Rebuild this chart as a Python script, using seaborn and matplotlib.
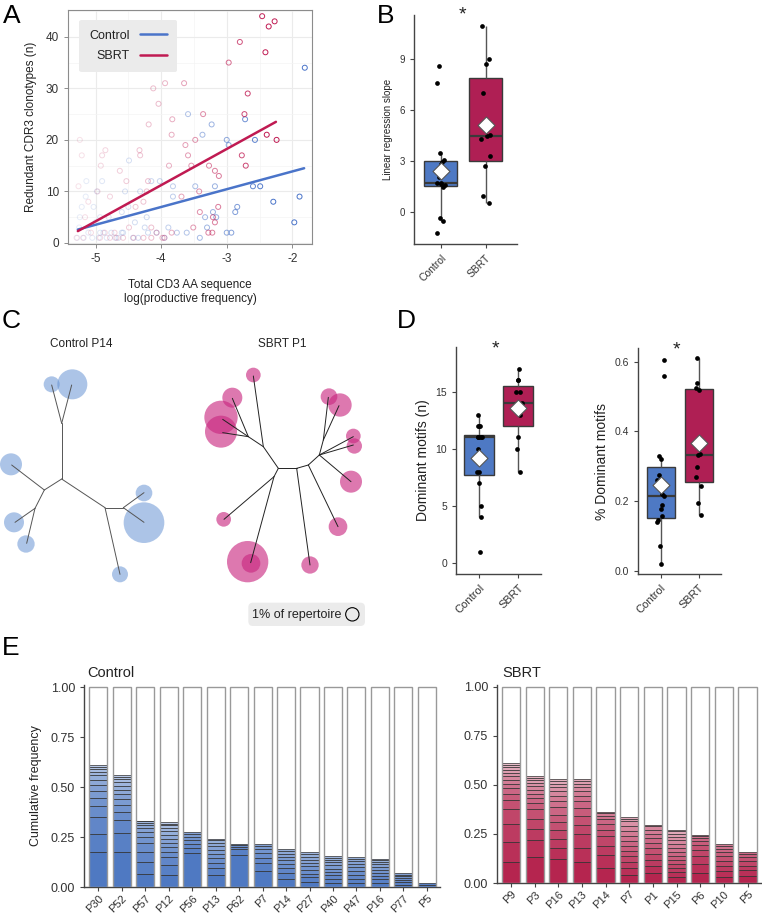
import numpy as np
import pandas as pd
import matplotlib
matplotlib.use("Agg")
import matplotlib.pyplot as plt
from matplotlib.colors import to_rgb, to_rgba
from matplotlib.patches import Circle, FancyBboxPatch
import seaborn as sns

# colours
BLUE = "#4E79C4"
RED = "#AF1F54"
LINE_BLUE = "#4A74C9"
LINE_RED = "#C01A52"
BAR_BLUE = "#4F79C2"
BAR_RED = "#B5254F"

# ---- panel A: redundant clonotypes vs log frequency
a_ctrl_x = [-1.81, -2.72, -2.57, -3.0, -2.97, -3.23, -3.37, -3.59, -2.60, -2.49,
            -2.29, -1.89, -1.97, -2.84, -2.87, -3.0, -2.93, -3.18, -3.16, -3.21,
            -3.33, -3.41, -3.48, -3.76, -3.82, -3.89, -4.02, -4.15, -4.25, -4.22,
            -4.32, -4.49, -4.55, -4.50, -4.58, -4.65, -4.76, -4.93, -4.93, -4.98,
            -5.03, -5.11, -5.14, -5.21, -5.24, -5.28, -4.83, -4.43, -4.07, -3.61,
            -3.30, -3.82, -5.18, -5.05, -4.95, -4.88, -4.70, -4.60, -4.35, -4.20,
            -3.95, -5.25, -5.0, -4.8, -4.6, -4.4, -5.15, -4.9]
a_ctrl_y = [34, 24, 20, 20, 19, 23, 21, 25, 11, 11,
            8, 9, 4, 7, 6, 2, 2, 11, 5, 6,
            5, 1, 11, 2, 9, 3, 12, 12, 3, 5,
            10, 16, 10, 7, 2, 1, 2, 2, 5, 10,
            7, 2, 12, 7, 5, 1, 1, 1, 2, 2,
            3, 11, 1, 1, 1, 2, 1, 2, 1, 2,
            1, 3, 4, 5, 6, 4, 9, 12]
a_sbrt_x = [-2.46, -2.27, -2.36, -2.80, -2.41, -2.97, -2.68, -2.73, -2.39, -2.24,
            -2.77, -2.71, -3.12, -3.18, -3.27, -3.13, -3.21, -3.18, -3.22, -3.28,
            -3.41, -3.51, -3.42, -3.36, -3.48, -3.54, -3.59, -3.63, -3.65, -3.82,
            -3.83, -3.84, -3.88, -3.94, -4.04, -4.12, -3.69, -3.95, -3.98, -4.22,
            -4.20, -4.33, -4.32, -4.19, -4.15, -4.49, -4.58, -4.68, -4.78, -4.85,
            -4.90, -4.92, -4.97, -5.11, -5.16, -5.24, -5.21, -5.26, -5.29, -4.78,
            -4.63, -4.53, -4.39, -4.27, -4.07, -3.84, -4.42, -4.27, -4.15, -5.07,
            -4.93, -4.86, -5.19, -4.71]
a_sbrt_y = [44, 43, 42, 39, 37, 35, 29, 25, 21, 20,
            17, 15, 13, 14, 15, 7, 5, 4, 2, 2,
            6, 3, 10, 25, 20, 15, 17, 19, 31, 35,
            24, 21, 15, 31, 27, 30, 9, 1, 1, 10,
            12, 18, 17, 23, 3, 3, 1, 1, 1, 18,
            17, 15, 10, 8, 5, 20, 17, 11, 1, 9,
            14, 12, 7, 8, 2, 2, 1, 1, 1, 2,
            1, 2, 1, 2]
fit_x_ctrl = [-5.27, -1.82]
fit_y_ctrl = [2.6, 14.5]
fit_x_sbrt = [-5.27, -2.25]
fit_y_sbrt = [2.3, 23.5]

# ---- panel B: regression slopes
slope_ctrl = [-1.25, -0.55, -0.35, 1.5, 1.6, 1.65, 1.7, 1.72, 2.05, 2.85, 2.95, 3.05, 3.5, 7.6, 8.6]
slope_sbrt = [0.5, 0.95, 2.7, 3.3, 4.3, 4.5, 4.55, 7.0, 8.75, 9.0, 11.0]

# ---- panel D: dominant motifs
motifs_ctrl = [1, 4, 5, 7, 8, 8, 10, 11, 11, 11, 11, 11, 12, 12, 12, 13]
motifs_sbrt = [8, 10, 11, 13, 14, 14, 15, 15, 16, 16, 17]
pct_ctrl = [0.02, 0.07, 0.14, 0.145, 0.158, 0.178, 0.19, 0.215, 0.22, 0.26, 0.275, 0.32, 0.33, 0.56, 0.606]
pct_sbrt = [0.16, 0.195, 0.242, 0.268, 0.297, 0.333, 0.335, 0.52, 0.525, 0.54, 0.61]

# ---- panel C: clonotype trees (tree units)
ctrl_node_x = [185, 185, 155, 215, 133, 35, 105, 45, 80, 315, 370, 432, 432, 360]
ctrl_node_y = [507, 340, 225, 225, 540, 465, 595, 637, 700, 593, 593, 548, 637, 793]
ctrl_parent = [-1, 0, 1, 1, 0, 4, 4, 6, 6, 0, 9, 10, 10, 9]
ctrl_clone_x = [155, 217, 33, 42, 78, 432, 432, 360]
ctrl_clone_y = [223, 223, 463, 637, 702, 549, 638, 793]
ctrl_clone_r = [24, 45, 33, 30, 26, 25, 61, 24]

sbrt_node_x = [835, 890, 925, 958, 1060, 1060, 970, 985, 1017, 1053, 1014, 930, 822, 672, 752, 790, 745, 668, 668, 697, 760]
sbrt_node_y = [475, 475, 465, 435, 380, 405, 390, 262, 287, 515, 650, 765, 500, 628, 758, 410, 380, 328, 368, 265, 198]
sbrt_parent = [-1, 0, 1, 2, 3, 3, 3, 6, 6, 3, 2, 1, 0, 12, 12, 0, 15, 16, 16, 16, 15]
sbrt_clone_x = [760, 697, 663, 663, 1060, 1063, 987, 1020, 1053, 1014, 930, 671, 743, 753]
sbrt_clone_y = [195, 263, 322, 365, 378, 408, 260, 285, 515, 650, 765, 628, 755, 760]
sbrt_clone_r = [22, 30, 50, 48, 22, 23, 25, 35, 33, 28, 26, 22, 62, 28]
legend_clone_r = 20

# ---- panel E: cumulative frequency of dominant clonotypes
ctrl_patients = ["P30", "P52", "P57", "P12", "P56", "P13", "P62", "P7", "P14", "P27", "P40", "P47", "P16", "P77", "P5"]
ctrl_cumfreq = [
    [0.177, 0.267, 0.35, 0.405, 0.445, 0.478, 0.512, 0.537, 0.558, 0.577, 0.589, 0.598, 0.608],
    [0.177, 0.268, 0.333, 0.373, 0.41, 0.438, 0.463, 0.487, 0.505, 0.523, 0.538, 0.552, 0.562],
    [0.067, 0.125, 0.177, 0.222, 0.251, 0.274, 0.294, 0.309, 0.321, 0.328, 0.332],
    [0.06, 0.112, 0.15, 0.177, 0.2, 0.222, 0.242, 0.262, 0.281, 0.296, 0.308, 0.316, 0.323],
    [0.172, 0.197, 0.217, 0.234, 0.25, 0.263, 0.273],
    [0.058, 0.095, 0.12, 0.144, 0.167, 0.187, 0.207, 0.222, 0.233, 0.241],
    [0.162, 0.188, 0.2, 0.208, 0.216],
    [0.079, 0.12, 0.145, 0.169, 0.189, 0.206, 0.216],
    [0.04, 0.07, 0.095, 0.115, 0.134, 0.15, 0.167, 0.18, 0.19],
    [0.027, 0.05, 0.067, 0.087, 0.103, 0.12, 0.137, 0.15, 0.163, 0.174],
    [0.02, 0.04, 0.058, 0.075, 0.092, 0.108, 0.123, 0.137, 0.147, 0.157],
    [0.02, 0.04, 0.062, 0.082, 0.098, 0.115, 0.13, 0.14, 0.148],
    [0.02, 0.038, 0.055, 0.07, 0.085, 0.1, 0.113, 0.125, 0.135, 0.14],
    [0.012, 0.024, 0.034, 0.044, 0.053, 0.062, 0.07],
    [0.012, 0.021],
]
sbrt_patients = ["P9", "P3", "P16", "P13", "P14", "P7", "P1", "P15", "P6", "P10", "P5"]
sbrt_cumfreq = [
    [0.105, 0.207, 0.301, 0.379, 0.422, 0.454, 0.483, 0.505, 0.527, 0.544, 0.561, 0.578, 0.592, 0.604, 0.612],
    [0.133, 0.218, 0.274, 0.327, 0.378, 0.408, 0.434, 0.456, 0.476, 0.493, 0.51, 0.524, 0.536, 0.546],
    [0.124, 0.179, 0.226, 0.269, 0.31, 0.349, 0.386, 0.417, 0.442, 0.468, 0.488, 0.507, 0.52, 0.531],
    [0.105, 0.179, 0.25, 0.294, 0.34, 0.383, 0.417, 0.442, 0.468, 0.49, 0.507, 0.519, 0.529],
    [0.077, 0.141, 0.19, 0.238, 0.272, 0.303, 0.327, 0.343, 0.355, 0.364],
    [0.043, 0.077, 0.107, 0.136, 0.162, 0.187, 0.213, 0.238, 0.264, 0.289, 0.315, 0.326, 0.336],
    [0.051, 0.085, 0.119, 0.15, 0.179, 0.204, 0.23, 0.252, 0.272, 0.289, 0.298],
    [0.029, 0.054, 0.077, 0.097, 0.117, 0.136, 0.156, 0.177, 0.197, 0.218, 0.235, 0.252, 0.264, 0.269],
    [0.051, 0.099, 0.136, 0.167, 0.192, 0.213, 0.228, 0.238, 0.243],
    [0.031, 0.06, 0.088, 0.114, 0.136, 0.156, 0.175, 0.19, 0.197],
    [0.037, 0.065, 0.088, 0.111, 0.131, 0.148, 0.158],
]
repertoire_total = 1.0

sns.set_theme(style="white")
plt.rcParams["font.family"] = ["Liberation Sans", "DejaVu Sans"]
plt.rcParams["axes.unicode_minus"] = False
plt.rcParams["text.color"] = "#222222"
plt.rcParams["axes.labelcolor"] = "#222222"
plt.rcParams["xtick.color"] = "#333333"
plt.rcParams["ytick.color"] = "#333333"
np.random.seed(7)

W, H = 762, 916
fig = plt.figure(figsize=(W / 100, H / 100), dpi=100)
fig.patch.set_facecolor("white")


def px_axes(x0, y0, x1, y1):
    return fig.add_axes([x0 / W, 1 - y1 / H, (x1 - x0) / W, (y1 - y0) / H])


def letter(x, y, s):
    fig.text(x / W, 1 - y / H, s, fontsize=19, va="top", ha="left", color="black")


def style_spines(ax):
    sns.despine(ax=ax)
    for side in ["left", "bottom"]:
        ax.spines[side].set_color("#444444")
        ax.spines[side].set_linewidth(1.0)
    ax.tick_params(axis="both", which="major", length=3, width=0.8, color="#444444",
                   left=True, bottom=True)


# ================= A =================
ax = px_axes(68, 10, 312, 244)
ax.set_xticks([-5, -4, -3, -2])
ax.set_xticks([-5.5, -4.5, -3.5, -2.5], minor=True)
ax.set_yticks([0, 10, 20, 30, 40])
ax.set_yticks([5, 15, 25, 35, 45], minor=True)
ax.grid(which="major", color="#EBEBEB", lw=0.8)
ax.grid(which="minor", color="#F4F4F4", lw=0.5)
ax.set_axisbelow(True)


def faded(color, xs):
    alpha = np.interp(xs, [-5.3, -4.0, -3.0, -2.4], [0.12, 0.3, 0.62, 1.0])
    base = np.array(to_rgba(color))
    cols = np.tile(base, (len(xs), 1))
    cols[:, 3] = alpha
    return cols


ax.scatter(a_ctrl_x, a_ctrl_y, s=13, facecolors="none",
           edgecolors=faded(LINE_BLUE, np.array(a_ctrl_x)), linewidths=0.7)
ax.scatter(a_sbrt_x, a_sbrt_y, s=13, facecolors="none",
           edgecolors=faded(LINE_RED, np.array(a_sbrt_x)), linewidths=0.7)
sns.lineplot(x=fit_x_ctrl, y=fit_y_ctrl, color=LINE_BLUE, lw=1.8, label="Control", ax=ax)
sns.lineplot(x=fit_x_sbrt, y=fit_y_sbrt, color=LINE_RED, lw=1.8, label="SBRT", ax=ax)
ax.set_xlim(-5.42, -1.70)
ax.set_ylim(-0.2, 45.2)
for s in ax.spines.values():
    s.set_color("#8C8C8C")
    s.set_linewidth(0.8)
ax.tick_params(axis="both", which="major", length=3, width=0.7, color="#8C8C8C",
               labelsize=8.5, left=True, bottom=True)
ax.tick_params(which="minor", length=0)
ax.set_xlabel("Total CD3 AA sequence\nlog(productive frequency)", fontsize=8.5, labelpad=10)
ax.set_ylabel("Redundant CDR3 clonotypes (n)", fontsize=8.5, labelpad=6)
leg = ax.legend(loc="upper left", bbox_to_anchor=(0.03, 0.975), markerfirst=False,
                frameon=True, facecolor="#EBEBEB", edgecolor="none", fontsize=9,
                handlelength=2.2, borderpad=0.6, labelspacing=0.7, framealpha=1)
leg.get_frame().set_boxstyle("round", pad=0.2)
letter(3, 4, "A")


# ================= box panels =================
def box_panel(ax, ctrl, sbrt, width):
    df = pd.DataFrame({"group": ["Control"] * len(ctrl) + ["SBRT"] * len(sbrt),
                       "value": list(ctrl) + list(sbrt)})
    sns.boxplot(data=df, x="group", y="value", hue="group", palette=[BLUE, RED],
                saturation=1, width=width, showfliers=False, showcaps=False,
                linecolor="#3a3a3a", linewidth=1.0, legend=False, ax=ax,
                medianprops=dict(lw=1.6), whiskerprops=dict(color="#555555"))
    sns.stripplot(data=df, x="group", y="value", color="black", size=3.4,
                  jitter=0.1, ax=ax)
    means = df.groupby("group")["value"].mean()
    ax.scatter([0, 1], means.values, marker="D", s=75, facecolor="white",
               edgecolor="#555555", linewidths=0.8, zorder=6)
    ax.set_xlabel("")
    style_spines(ax)
    for lab in ax.get_xticklabels():
        lab.set_rotation(45)
        lab.set_ha("right")
        lab.set_rotation_mode("anchor")


# B
ax = px_axes(414, 15, 517, 244)
box_panel(ax, slope_ctrl, slope_sbrt, 0.74)
ax.set_xlim(-0.6, 1.7)
ax.set_ylim(-1.89, 11.62)
ax.set_yticks([0, 3, 6, 9])
ax.tick_params(axis="y", labelsize=7)
ax.tick_params(axis="x", labelsize=7.5)
ax.set_ylabel("Linear regression slope", fontsize=7, labelpad=5)
ax.text(0.475, 1.0, "*", transform=ax.transAxes, ha="center", va="center", fontsize=14)
letter(377, 4, "B")

# D left
ax = px_axes(456, 347, 541, 574)
box_panel(ax, motifs_ctrl, motifs_sbrt, 0.77)
ax.set_xlim(-0.6, 1.58)
ax.set_ylim(-0.94, 18.9)
ax.set_yticks([0, 5, 10, 15])
ax.tick_params(axis="y", labelsize=7.5)
ax.tick_params(axis="x", labelsize=8)
ax.set_ylabel("Dominant motifs (n)", fontsize=10, labelpad=4)
ax.text(0.47, 0.99, "*", transform=ax.transAxes, ha="center", va="center", fontsize=14)

# D right
ax = px_axes(638, 348, 721, 574)
box_panel(ax, pct_ctrl, pct_sbrt, 0.74)
ax.set_xlim(-0.6, 1.59)
ax.set_ylim(-0.009, 0.639)
ax.set_yticks([0, 0.2, 0.4, 0.6])
ax.set_yticklabels(["0.0", "0.2", "0.4", "0.6"])
ax.tick_params(axis="y", labelsize=7.5)
ax.tick_params(axis="x", labelsize=8)
ax.set_ylabel("% Dominant motifs", fontsize=10, labelpad=4)
ax.text(0.46, 0.99, "*", transform=ax.transAxes, ha="center", va="center", fontsize=14)
letter(397, 309, "D")

# ================= C =================
ax = px_axes(0, 310, 420, 670)
ax.set_xlim(0, 1260)
ax.set_ylim(1080, 0)
ax.set_aspect("equal")
ax.axis("off")


def draw_tree(nx, ny, parent, cx, cy, cr, color, alpha, line_color):
    for x, y, r in zip(cx, cy, cr):
        ax.add_patch(Circle((x, y), r, facecolor=color, alpha=alpha, edgecolor="none", zorder=1))
    for i, p in enumerate(parent):
        if p >= 0:
            ax.plot([nx[p], nx[i]], [ny[p], ny[i]], color=line_color, lw=0.7, zorder=2)


draw_tree(ctrl_node_x, ctrl_node_y, ctrl_parent, ctrl_clone_x, ctrl_clone_y, ctrl_clone_r,
          "#5B8BD0", 0.5, "#555555")
draw_tree(sbrt_node_x, sbrt_node_y, sbrt_parent, sbrt_clone_x, sbrt_clone_y, sbrt_clone_r,
          "#C8267F", 0.62, "#222222")
ax.text(245, 103, "Control P14", ha="center", va="center", fontsize=8.5)
ax.text(848, 103, "SBRT P1", ha="center", va="center", fontsize=8.5)
ax.add_patch(FancyBboxPatch((745, 878), 350, 70, boxstyle="round,pad=0,rounding_size=14",
                            facecolor="#EBEBEB", edgecolor="none"))
ax.text(757, 914, "1% of repertoire", ha="left", va="center", fontsize=9)
ax.add_patch(Circle((1057, 913), legend_clone_r, fill=False, edgecolor="black", lw=0.8))
letter(2, 309, "C")


# ================= E =================
def tint(color, k):
    c = np.array(to_rgb(color))
    return tuple(c + (1 - c) * min(0.05 * k, 0.7))


def cum_panel(ax, patients, cumfreq, base, xlim):
    n = len(patients)
    sns.barplot(x=patients, y=[repertoire_total] * n, color="white", saturation=1,
                width=0.77, errorbar=None, edgecolor="none", ax=ax)
    for i, cum in enumerate(cumfreq):
        bottoms = [0] + cum[:-1]
        heights = np.diff([0] + cum)
        cols = [tint(base, k) for k in range(len(cum))]
        ax.bar([i] * len(cum), heights, bottom=bottoms, width=0.77, color=cols,
               edgecolor="#2e2e2e", linewidth=0.5, zorder=3)
    ax.bar(range(n), [repertoire_total] * n, width=0.77, facecolor="none",
           edgecolor="#999999", linewidth=1.0, zorder=4)
    ax.set_xlim(*xlim)
    ax.set_ylim(0, 1.01)
    ax.set_yticks([0, 0.25, 0.5, 0.75, 1.0])
    ax.set_yticklabels(["0.00", "0.25", "0.50", "0.75", "1.00"])
    style_spines(ax)
    ax.tick_params(axis="y", labelsize=9)
    ax.tick_params(axis="x", labelsize=8, pad=1.5)
    for lab in ax.get_xticklabels():
        lab.set_rotation(45)
        lab.set_ha("right")
        lab.set_rotation_mode("anchor")
    ax.set_xlabel("")


ax = px_axes(84, 685, 440, 887)
cum_panel(ax, ctrl_patients, ctrl_cumfreq, BAR_BLUE, (-0.61, 14.56))
ax.set_ylabel("Cumulative frequency", fontsize=9, labelpad=6)
ax.set_title("Control", loc="left", fontsize=10.5, pad=6, x=0.01)

ax = px_axes(497, 685, 762, 883)
cum_panel(ax, sbrt_patients, sbrt_cumfreq, BAR_RED, (-0.59, 10.61))
ax.set_ylabel("")
ax.set_title("SBRT", loc="left", fontsize=10.5, pad=6, x=0.02)
letter(2, 636, "E")

fig.savefig("out.png", dpi=100, facecolor="white")
